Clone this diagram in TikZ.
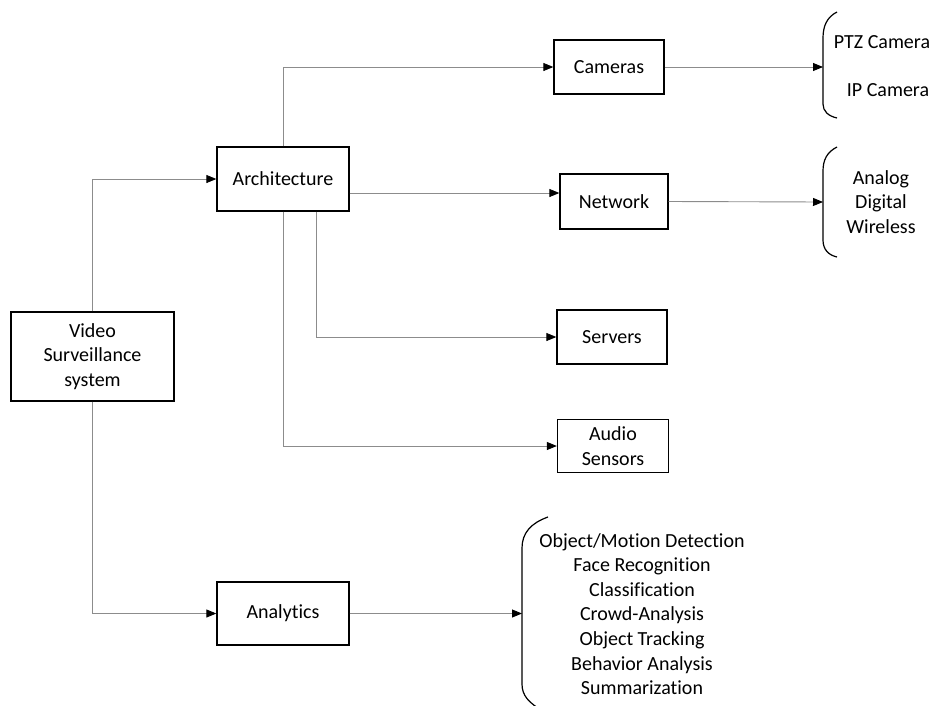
\documentclass[tikz,border=0pt]{standalone}
\usepackage{fontspec}
\setmainfont{Carlito}[Ligatures={NoCommon,NoContextual}]
\usetikzlibrary{arrows.meta}
\begin{document}
\begin{tikzpicture}[x=1pt,y=-1pt,
  txtfont/.style={font=\fontsize{20}{24.6}\selectfont},
  box/.style={draw=black,line width=1.3pt,fill=white,inner sep=0pt,align=center,txtfont},
  lbl/.style={inner sep=0pt,align=center,txtfont},
  link/.style={draw=black!45,line width=0.9pt,-{Triangle[length=10pt,width=8pt,color=black]}},
  brace/.style={draw=black,line width=1.2pt}
]
\useasboundingbox (0,0) rectangle (940,705);

% main boxes
\node[box,minimum width=163,minimum height=89] (vss) at (92.5,356.5) {Video\\Surveillance\\system};
\node[box,minimum width=132,minimum height=64] (arch) at (283,179) {Architecture};
\node[box,minimum width=132,minimum height=63] (ana) at (283,613.5) {Analytics};

% architecture components
\node[box,minimum width=110,minimum height=54] (cam) at (609,67) {Cameras};
\node[box,minimum width=108,minimum height=55] (net) at (614,201.5) {Network};
\node[box,minimum width=110,minimum height=54] (srv) at (612,337) {Servers};
\node[box,minimum width=111,minimum height=53] (aud) at (613,446) {Audio\\Sensors};

% brace tips
\coordinate (b1) at (823,67);
\coordinate (b2) at (823,202);
\coordinate (b3) at (522,613.5);

% braces
\draw[brace] (837,12) .. controls (827,17) and (823,26) .. (823,38) -- (823,104) .. controls (823,111) and (828,116) .. (837,118);
\draw[brace] (837,147) .. controls (827,152) and (823,160) .. (823,171) -- (823,240) .. controls (823,249) and (828,255) .. (837,257);
\draw[brace] (548,517) .. controls (531,523) and (522,533) .. (522,548) -- (522,684) .. controls (522,695) and (528,703) .. (545,712);

% brace contents
\node[lbl] (ptz) at (882,42) {PTZ Camera};
\node[lbl] (ip) at (888,90) {IP Camera};
\node[lbl] (nettypes) at (881,202) {Analog\\Digital\\Wireless};
\node[lbl] (tasks) at (642,614) {Object/Motion Detection\\Face Recognition\\Classification\\Crowd-Analysis\\Object Tracking\\Behavior Analysis\\Summarization};

% connectors
\coordinate (a1) at ([yshift=-14pt]arch.east);
\coordinate (a2) at ([xshift=33pt]arch.south);
\draw[link] (vss.north) |- (arch.west);
\draw[link] (vss.south) |- (ana.west);
\draw[link] (arch.north) |- (cam.west);
\draw[link] (a1) -- (a1 -| net.west);
\draw[link] (a2) |- (srv.west);
\draw[link] (arch.south) |- (aud.west);
\draw[link] (cam.east) -- (b1);
\draw[link] (net.east) -- (b2);
\draw[link] (ana.east) -- (b3);
\end{tikzpicture}
\end{document}
